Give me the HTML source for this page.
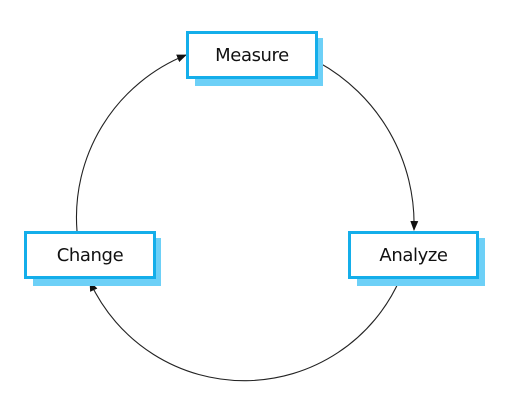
<!DOCTYPE html>
<html><head><style>
body{margin:0;width:520px;height:405px;background:#fff;overflow:hidden;position:relative;font-family:"DejaVu Sans","Liberation Sans",sans-serif}
.sh{position:absolute;background:#6dd0f7}
.bx{position:absolute;box-sizing:border-box;border:3px solid #14aeea;background:#fff;display:flex;align-items:center;justify-content:center;font-size:18px;letter-spacing:-0.4px;color:#111}
svg{position:absolute;left:0;top:0}
</style></head><body>
<svg width="520" height="405">
<defs><marker id="a" markerWidth="10" markerHeight="8" refX="9" refY="4" orient="auto" markerUnits="userSpaceOnUse"><path d="M0,0 L10,4 L0,8 Z" fill="#111"/></marker></defs>
<g fill="none" stroke="#222" stroke-width="1.1">
<path d="M318,62 A185,185 0 0 1 414,230" marker-end="url(#a)"/>
<path d="M400,279 A170,170 0 0 1 90,282" marker-end="url(#a)"/>
<path d="M77,231 A175,175 0 0 1 186,55" marker-end="url(#a)"/>
</g>
</svg>
<div class="sh" style="left:195px;top:38px;width:128px;height:48px"></div>
<div class="bx" style="left:186px;top:31px;width:132px;height:48px">Measure</div>
<div class="sh" style="left:33px;top:238px;width:128px;height:48px"></div>
<div class="bx" style="left:24px;top:231px;width:132px;height:48px">Change</div>
<div class="sh" style="left:357px;top:238px;width:128px;height:48px"></div>
<div class="bx" style="left:348px;top:231px;width:131px;height:48px">Analyze</div>
</body></html>
